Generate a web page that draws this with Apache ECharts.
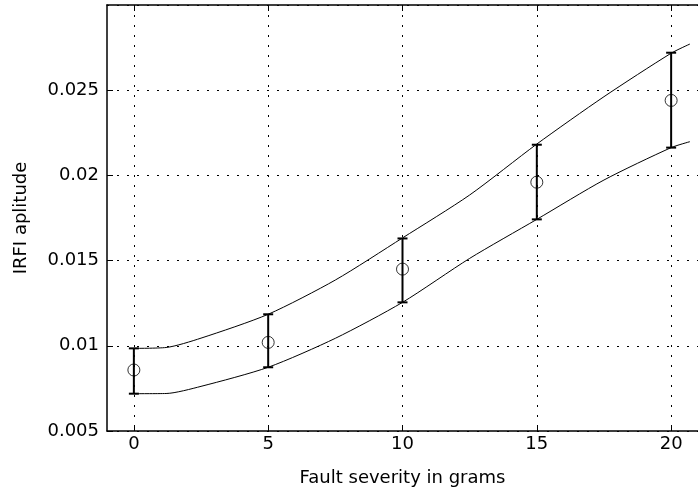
<!DOCTYPE html>
<html>
<head>
<meta charset="utf-8">
<script src="https://cdn.jsdelivr.net/npm/echarts@6/dist/echarts.min.js"></script>
<style>
    html, body { margin: 0; padding: 0; background: #ffffff; }
    #chart { width: 698px; height: 495px; }
</style>
</head>
<body>
<div id="chart"></div>
<script>
// measured points (mean with error bar)
const severity = [0, 5, 10, 15, 20];
const meanAmp = [0.00858, 0.0102, 0.0145, 0.0196, 0.0244];
const upperAmp = [0.00985, 0.01185, 0.0163, 0.0218, 0.0272];
const lowerAmp = [0.00719, 0.00874, 0.01255, 0.01742, 0.02163];

// bounding curves
const curveX = [0, 1.2, 2.5, 5, 7.5, 10, 12.5, 15, 17.5, 20, 20.7];
const upperCurve = [0.00985, 0.0099, 0.01045, 0.01185, 0.01386, 0.01633, 0.01885, 0.02184, 0.02462, 0.02717, 0.02771];
const lowerCurve = [0.00719, 0.0072, 0.00762, 0.00874, 0.01044, 0.01255, 0.01513, 0.01742, 0.01973, 0.02163, 0.02198];

const xTicks = [0, 5, 10, 15, 20];

const font = 'DejaVu Sans';
const dotted = { color: '#000', width: 1, type: [2, 8] };

function pairs(xs, ys) {
    return xs.map(function (x, i) { return [x, ys[i]]; });
}

const chart = echarts.init(document.getElementById('chart'));

chart.setOption({
    animation: false,
    backgroundColor: '#fff',
    grid: { left: 107, top: 5, right: -10, bottom: 64 },
    xAxis: [{
        type: 'value',
        min: -1,
        max: 21,
        name: 'Fault severity in grams',
        nameLocation: 'middle',
        nameGap: 38,
        nameTextStyle: { fontFamily: font, fontSize: 18, color: '#000' },
        axisLine: { onZero: false, lineStyle: { color: '#000', width: 1.5 } },
        axisTick: { inside: true, length: 6, customValues: xTicks, lineStyle: { color: '#000' } },
        axisLabel: { customValues: xTicks, margin: 4, fontFamily: font, fontSize: 18, color: '#000' },
        splitLine: { show: true, lineStyle: dotted }
    }, {
        // top border of the box
        type: 'value',
        position: 'top',
        min: -1,
        max: 21,
        axisLine: { onZero: false, lineStyle: { color: '#000', width: 1.5 } },
        axisTick: { inside: true, length: 6, customValues: xTicks, lineStyle: { color: '#000' } },
        axisLabel: { show: false },
        splitLine: { show: false }
    }],
    yAxis: {
        type: 'value',
        min: 0.005,
        max: 0.03,
        interval: 0.005,
        name: 'IRFI aplitude',
        nameLocation: 'middle',
        nameGap: 77,
        nameTextStyle: { fontFamily: font, fontSize: 18, color: '#000' },
        axisLine: { show: true, onZero: false, lineStyle: { color: '#000', width: 1.5 } },
        axisTick: { show: true, inside: true, length: 6, lineStyle: { color: '#000' } },
        axisLabel: {
            margin: 8,
            showMaxLabel: false,
            fontFamily: font,
            fontSize: 18,
            color: '#000',
            formatter: function (v) { return String(+v.toFixed(3)); }
        },
        splitLine: { show: true, lineStyle: dotted }
    },
    series: [
        {
            type: 'line',
            data: pairs(curveX, upperCurve),
            smooth: 0.25,
            showSymbol: false,
            lineStyle: { color: '#000', width: 1 }
        },
        {
            type: 'line',
            data: pairs(curveX, lowerCurve),
            smooth: 0.25,
            showSymbol: false,
            lineStyle: { color: '#000', width: 1 }
        },
        {
            // error bars with caps
            type: 'custom',
            data: severity.map(function (x, i) { return [x, lowerAmp[i], upperAmp[i]]; }),
            renderItem: function (params, api) {
                const lo = api.coord([api.value(0), api.value(1)]);
                const hi = api.coord([api.value(0), api.value(2)]);
                const cap = 5;
                const style = { stroke: '#000', lineWidth: 2 };
                return {
                    type: 'group',
                    children: [
                        { type: 'line', shape: { x1: lo[0], y1: lo[1], x2: hi[0], y2: hi[1] }, style: style },
                        { type: 'line', shape: { x1: lo[0] - cap, y1: lo[1], x2: lo[0] + cap, y2: lo[1] }, style: style },
                        { type: 'line', shape: { x1: hi[0] - cap, y1: hi[1], x2: hi[0] + cap, y2: hi[1] }, style: style }
                    ]
                };
            },
            z: 3
        },
        {
            type: 'scatter',
            data: pairs(severity, meanAmp),
            symbol: 'circle',
            symbolSize: 12,
            itemStyle: { color: 'rgba(0,0,0,0)', borderColor: '#000', borderWidth: 1 },
            z: 4
        }
    ]
});
</script>
</body>
</html>
